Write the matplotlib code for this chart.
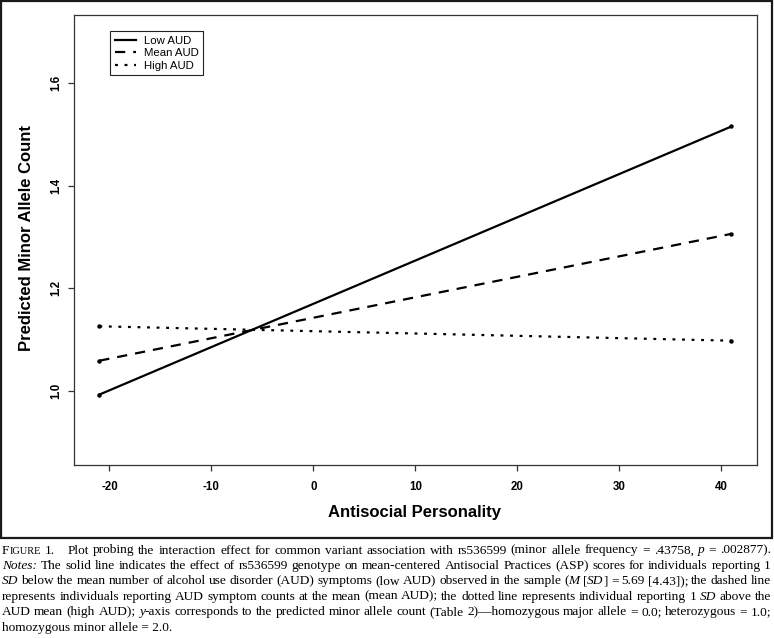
import matplotlib
matplotlib.use("Agg")
import matplotlib.pyplot as plt
from matplotlib.patches import Rectangle

plt.rcParams['font.family'] = ['Liberation Sans', 'DejaVu Sans']

# ---- data ----
asp = [-21, 41]
low_aud = [0.993, 1.515]
mean_aud = [1.059, 1.306]
high_aud = [1.126, 1.098]
series_labels = ["Low AUD", "Mean AUD", "High AUD"]
x_ticks = [-20, -10, 0, 10, 20, 30, 40]
y_ticks = [1.0, 1.2, 1.4, 1.6]
y_tick_labels = ["1.0", "1.2", "1.4", "1.6"]
x_label = "Antisocial Personality"
y_label = "Predicted Minor Allele Count"

caption_lines = [
    "F^IGURE^ 1. || Plot probing the interaction effect for common variant association with rs536599 (minor allele frequency = .43758, *p* = .002877).",
    "*Notes:* The solid line indicates the effect of rs536599 genotype on mean-centered Antisocial Practices (ASP) scores for individuals reporting 1",
    "*SD* below the mean number of alcohol use disorder (AUD) symptoms (low AUD) observed in the sample (*M* [*SD*] = 5.69 [4.43]); the dashed line",
    "represents individuals reporting AUD symptom counts at the mean (mean AUD); the dotted line represents individual reporting 1 *SD* above the",
    "AUD mean (high AUD); *y*-axis corresponds to the predicted minor allele count (Table 2)\u2014homozygous major allele = 0.0; heterozygous = 1.0;",
    "homozygous minor allele = 2.0.",
]

W, H = 774, 638
fig = plt.figure(figsize=(W / 100, H / 100), dpi=100)

def fx(px):
    return px / W

def fy(py):
    return 1 - py / H

# outer frame
fig.patches.append(Rectangle((fx(1), fy(538)), fx(771), 537 / H, transform=fig.transFigure,
                             fill=False, edgecolor='#1a1a1a', linewidth=1.6))

ax_l, ax_r, ax_t, ax_b = 74, 756.7, 15, 465
ax = fig.add_axes([fx(ax_l), fy(ax_b), fx(ax_r - ax_l), (ax_b - ax_t) / H])

lw = 1.6
ax.plot(asp, low_aud, color='black', lw=lw, ls='-', label=series_labels[0])
ax.plot(asp, mean_aud, color='black', lw=lw, ls=(0, (4.6, 3.6)), label=series_labels[1])
ax.plot(asp, high_aud, color='black', lw=lw, ls=(0, (1.3, 3.0)), label=series_labels[2])
for ser in (low_aud, mean_aud, high_aud):
    ax.plot(asp, ser, 'o', color='black', ms=3.2, mew=0)

ax.set_xlim(-23.48, 43.48)
ax.set_ylim(0.856, 1.732)
ax.set_xticks(x_ticks)
ax.set_xticklabels([str(t) for t in x_ticks])
ax.set_yticks(y_ticks)
ax.set_yticklabels(y_tick_labels)

for sp in ax.spines.values():
    sp.set_color('#333333')
    sp.set_linewidth(0.9)
ax.tick_params(axis='both', direction='out', length=4.5, width=0.9, color='#333333',
               labelsize=8.3)
ax.tick_params(axis='x', pad=6.8)
ax.tick_params(axis='y', pad=3.8)
for lab in ax.get_xticklabels():
    lab.set_fontweight('bold')
for lab in ax.get_yticklabels():
    lab.set_fontweight('bold')
    lab.set_rotation(90)
    lab.set_verticalalignment('center')

fig.text(fx(415), fy(513), x_label, ha='center', va='center', fontsize=12, fontweight='bold')
fig.text(fx(27), fy(238), y_label, ha='center', va='center', rotation=90, fontsize=12,
         fontweight='bold')

leg = ax.legend(loc='upper left', bbox_to_anchor=(fx(110), fy(31.3)), bbox_transform=fig.transFigure,
                borderaxespad=0, fontsize=8.2, handlelength=1.9, handletextpad=0.65,
                labelspacing=0.2, borderpad=0.42, fancybox=False, framealpha=1)
leg.get_frame().set_edgecolor('#222222')
leg.get_frame().set_linewidth(0.8)

# ---- caption (justified, mixed styles) ----
cap_size = 9.6
serif = ['Liberation Serif', 'DejaVu Serif']

def parse_word(word):
    runs = []
    style = 'n'
    buf = ''
    for ch in word:
        if ch == '*':
            if buf:
                runs.append((buf, style))
            buf = ''
            style = 'i' if style != 'i' else 'n'
        elif ch == '^':
            if buf:
                runs.append((buf, style))
            buf = ''
            style = 'sc' if style != 'sc' else 'n'
        else:
            buf += ch
    if buf:
        runs.append((buf, style))
    return runs

def text_kw(style):
    kw = dict(family=serif, fontsize=cap_size, color='black', va='baseline', ha='left')
    if style == 'i':
        kw['style'] = 'italic'
    if style == 'sc':
        kw['fontsize'] = cap_size * 0.78
    return kw

renderer = fig.canvas.get_renderer()

def run_width(txt, style):
    t = fig.text(0, 0, txt, **text_kw(style))
    w = t.get_window_extent(renderer).width
    t.remove()
    return w

x_start, x_end = 2.0, 771.0
y0, dy = 553.5, 15.4
for li, line in enumerate(caption_lines):
    ypx = y0 + li * dy
    justify = li < len(caption_lines) - 1
    if not justify:
        # last line: natural spacing, drawn as style runs
        runs = parse_word(line)
        xx = x_start
        for t, s in runs:
            fig.text(fx(xx), fy(ypx), t, **text_kw(s))
            xx += run_width(t, s)
        continue
    tokens = line.split(' ')
    words = []
    weights = []
    pending_weight = 1.0
    for tok in tokens:
        if tok == '||':
            pending_weight += 2.0
            continue
        if words:
            weights.append(pending_weight)
        pending_weight = 1.0
        runs = parse_word(tok)
        widths = [run_width(t, s) for t, s in runs]
        words.append((runs, widths))
    total = sum(sum(w) for _, w in words)
    unit = (x_end - x_start - total) / sum(weights)
    x = x_start
    for wi, (runs, widths) in enumerate(words):
        xx = x
        for (t, s), w in zip(runs, widths):
            fig.text(fx(xx), fy(ypx), t, **text_kw(s))
            xx += w
        x = xx
        if wi < len(weights):
            x += unit * weights[wi]

fig.savefig("out.png", dpi=100)
